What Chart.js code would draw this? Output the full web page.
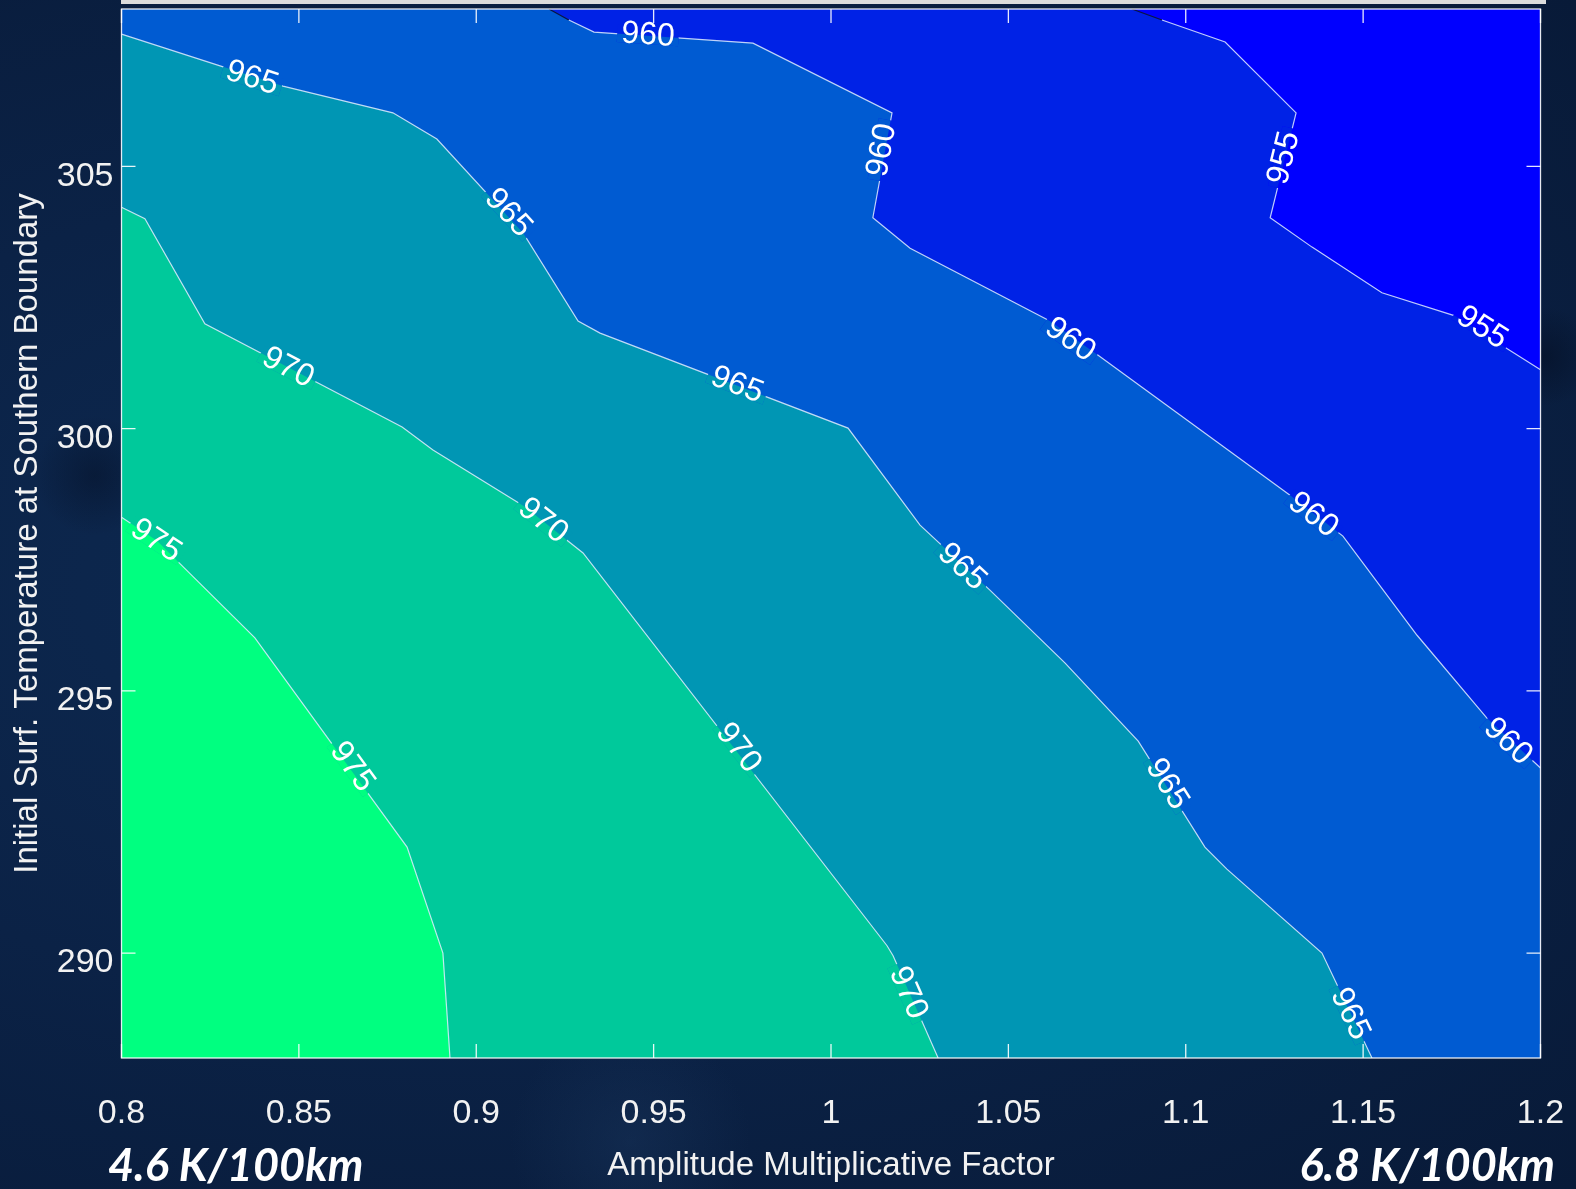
<!DOCTYPE html>
<html>
<head>
<meta charset="utf-8">
<title>Contour - surface temperature vs amplitude factor</title>
<script src="https://cdn.jsdelivr.net/npm/chart.js@4.4.0/dist/chart.umd.min.js"></script>
<style>
  html, body { margin: 0; padding: 0; width: 1576px; height: 1189px; overflow: hidden; }
  body {
    background:
      radial-gradient(circle at 6% 40%, rgba(4, 14, 34, 0.45) 0, rgba(4, 14, 34, 0) 60px),
      radial-gradient(circle at 98% 30%, rgba(4, 14, 34, 0.55) 0, rgba(4, 14, 34, 0) 50px),
      radial-gradient(circle at 40% 96%, rgba(30, 60, 100, 0.35) 0, rgba(30, 60, 100, 0) 120px),
      radial-gradient(ellipse at 30% 50%, #0d2a52 0%, #0b2246 50%, #081a38 100%);
  }
  #wrap { position: relative; width: 1576px; height: 1189px; }
  #topBar { position: absolute; left: 121px; top: 0; width: 1425px; height: 4px; background: #dcdcdc; }
  #contourChart { position: absolute; left: 0; top: 0; }
  .gradient-note {
    position: absolute; top: 1140px; height: 48px; line-height: 48px;
    font-family: Lato, "Open Sans", sans-serif; font-style: italic; font-weight: bold;
    font-size: 45px; color: #ffffff; white-space: nowrap;
  }
  #noteLeft { left: 108px; }
  #noteRight { right: 21px; }
</style>
</head>
<body>
<div id="wrap">
  <div id="topBar"></div>
  <canvas id="contourChart" width="1576" height="1189"></canvas>
  <div class="gradient-note" id="noteLeft">4.6 K/100km</div>
  <div class="gradient-note" id="noteRight">6.8 K/100km</div>
</div>
<script>
// Axis ranges and ticks
const xMin = 0.8, xMax = 1.2, yMin = 288, yMax = 308;
const xTicks = [0.8, 0.85, 0.9, 0.95, 1, 1.05, 1.1, 1.15, 1.2];
const xTickLabels = ['0.8', '0.85', '0.9', '0.95', '1', '1.05', '1.1', '1.15', '1.2'];
const yTicks = [290, 295, 300, 305];

// Contour levels and the colour of the band above each level (first = below 955)
const levels = [955, 960, 965, 970, 975];
const bandColors = ['#0000ff', '#0022e6', '#005bd2', '#0096b4', '#00c99b', '#00ff80'];

// Contour lines: [amplitude factor, temperature]
const line955 = [[1.0848, 308], [1.0933, 307.79], [1.1111, 307.37], [1.1311, 306.02], [1.1238, 304.02],
  [1.1356, 303.46], [1.1553, 302.59], [1.1759, 302.15], [1.2, 301.12]];
const line960 = [[0.9205, 308], [0.9261, 307.79], [0.9332, 307.56], [0.9780, 307.35], [1.0172, 306.02],
  [1.0118, 304.02], [1.0223, 303.44], [1.0617, 302.05], [1.0753, 301.40], [1.1294, 298.73],
  [1.1443, 297.95], [1.1652, 296.06], [1.1849, 294.48], [1.2, 293.53]];
const line965 = [[0.8, 307.52], [0.8455, 306.53], [0.8765, 306.02], [0.8889, 305.52], [0.9132, 303.73],
  [0.9287, 302.05], [0.9349, 301.82], [1.0048, 300.01], [1.0251, 298.16], [1.0448, 296.92],
  [1.0660, 295.53], [1.0866, 294.04], [1.1054, 292.02], [1.1116, 291.60], [1.1384, 290.0], [1.1525, 288]];
const line970 = [[0.8, 304.22], [0.8066, 304.0], [0.8235, 302.0], [0.8791, 300.03], [0.8878, 299.59],
  [0.9137, 298.51], [0.9301, 297.63], [1.0158, 290.14], [1.0175, 289.95], [1.0302, 288]];
const line975 = [[0.8, 298.31], [0.8100, 297.86], [0.8376, 296.01], [0.8805, 292.02], [0.8906, 290.0], [0.8926, 288]];

// Inline contour labels: [level, x, y]
const contourLabels = [
  [955, 1.1277, 305.16], [955, 1.1835, 301.92],
  [960, 0.9484, 307.50], [960, 1.0144, 305.31], [960, 1.0674, 301.69], [960, 1.1359, 298.35], [960, 1.1908, 294.03],
  [965, 0.8368, 306.68], [965, 0.9090, 304.11], [965, 0.9735, 300.83], [965, 1.0369, 297.36], [965, 1.0947, 293.22], [965, 1.1463, 288.84],
  [970, 0.8469, 301.16], [970, 0.9188, 298.24], [970, 0.9739, 293.91], [970, 1.0217, 289.24],
  [975, 0.8097, 297.86], [975, 0.8650, 293.55]
];

const contourLines = [line955, line960, line965, line970, line975];
const textColor = '#f2f2f2';
const lineColor = 'rgba(225, 235, 255, 0.85)';
const fontFamily = '"Liberation Sans", Arial, Helvetica, sans-serif';

function toXY(pts) {
  return pts.map(p => ({ x: p[0], y: p[1] }));
}

// region above a contour level = contour + lower-left corner(s) of the plot
function regionPolygon(pts) {
  const poly = [[xMin, yMin]];
  if (pts[0][1] === yMax) poly.push([xMin, yMax]);
  pts.forEach(p => poly.push(p));
  if (pts[pts.length - 1][0] === xMax) poly.push([xMax, yMin]);
  return toXY(poly);
}

const datasets = [];
datasets.push({
  data: toXY([[xMin, yMin], [xMin, yMax], [xMax, yMax], [xMax, yMin]]),
  showLine: true, fill: 'shape', backgroundColor: bandColors[0],
  borderColor: 'transparent', borderWidth: 0, pointRadius: 0, order: 20
});
contourLines.forEach((c, i) => {
  datasets.push({
    data: regionPolygon(c),
    showLine: true, fill: 'shape', backgroundColor: bandColors[i + 1],
    borderColor: 'transparent', borderWidth: 0, pointRadius: 0, order: 19 - i
  });
});
contourLines.forEach(c => {
  datasets.push({
    data: toXY(c),
    showLine: true, fill: false, borderColor: lineColor,
    borderWidth: 1.2, pointRadius: 0, order: 1,
    // the piece that leaves through the top edge shows up dark in the original
    segment: { borderColor: s => (s.p0.parsed.y === yMax ? '#0a1640' : lineColor) }
  });
});

// Draws the rotated level labels along their contour, breaking the line under them
const labelPlugin = {
  id: 'contourLabels',
  afterDatasetsDraw(chart) {
    const ctx = chart.ctx;
    const xs = chart.scales.x, ys = chart.scales.y;
    ctx.save();
    ctx.font = '32px ' + fontFamily;
    ctx.textAlign = 'center';
    ctx.textBaseline = 'middle';
    contourLabels.forEach(([lvl, lx, ly]) => {
      const idx = levels.indexOf(lvl);
      const pts = contourLines[idx];
      const px = xs.getPixelForValue(lx), py = ys.getPixelForValue(ly);
      let best = Infinity, angle = 0;
      for (let i = 0; i < pts.length - 1; i++) {
        const ax = xs.getPixelForValue(pts[i][0]), ay = ys.getPixelForValue(pts[i][1]);
        const bx = xs.getPixelForValue(pts[i + 1][0]), by = ys.getPixelForValue(pts[i + 1][1]);
        const dx = bx - ax, dy = by - ay;
        const len2 = dx * dx + dy * dy;
        let t = len2 ? ((px - ax) * dx + (py - ay) * dy) / len2 : 0;
        t = Math.max(0, Math.min(1, t));
        const d = Math.hypot(ax + t * dx - px, ay + t * dy - py);
        if (d < best) { best = d; angle = Math.atan2(dy, dx); }
      }
      if (angle > Math.PI / 2) angle -= Math.PI;
      if (angle < -Math.PI / 2) angle += Math.PI;
      const w = ctx.measureText(String(lvl)).width + 8;

      // gap in the contour line: repaint the two bands inside the label box
      ctx.save();
      ctx.translate(px, py);
      ctx.rotate(angle);
      ctx.beginPath();
      ctx.rect(-w / 2, -9, w, 18);
      ctx.setTransform(1, 0, 0, 1, 0, 0);
      ctx.clip();
      ctx.fillStyle = bandColors[idx];
      ctx.fillRect(px - w, py - w, 2 * w, 2 * w);
      ctx.beginPath();
      regionPolygon(pts).forEach((p, i) => {
        const qx = xs.getPixelForValue(p.x), qy = ys.getPixelForValue(p.y);
        if (i === 0) ctx.moveTo(qx, qy); else ctx.lineTo(qx, qy);
      });
      ctx.closePath();
      ctx.fillStyle = bandColors[idx + 1];
      ctx.fill();
      ctx.restore();

      ctx.save();
      ctx.translate(px, py);
      ctx.rotate(angle);
      ctx.fillStyle = '#ffffff';
      ctx.fillText(String(lvl), 0, 0);
      ctx.restore();
    });
    ctx.restore();
  }
};

// MATLAB style box with inward ticks on all four sides
const framePlugin = {
  id: 'boxFrame',
  afterDraw(chart) {
    const ctx = chart.ctx;
    const a = chart.chartArea;
    const xs = chart.scales.x, ys = chart.scales.y;
    const tick = 14;
    ctx.save();
    ctx.strokeStyle = 'rgba(255, 255, 255, 0.9)';
    ctx.lineWidth = 1.3;
    ctx.strokeRect(a.left, a.top, a.right - a.left, a.bottom - a.top);
    ctx.beginPath();
    xTicks.forEach(v => {
      const px = xs.getPixelForValue(v);
      ctx.moveTo(px, a.bottom); ctx.lineTo(px, a.bottom - tick);
      ctx.moveTo(px, a.top); ctx.lineTo(px, a.top + tick);
    });
    yTicks.forEach(v => {
      const py = ys.getPixelForValue(v);
      ctx.moveTo(a.left, py); ctx.lineTo(a.left + tick, py);
      ctx.moveTo(a.right, py); ctx.lineTo(a.right - tick, py);
    });
    ctx.stroke();
    ctx.restore();
  }
};

const chart = new Chart(document.getElementById('contourChart'), {
  type: 'scatter',
  data: { datasets: datasets },
  options: {
    responsive: false,
    devicePixelRatio: 1,
    animation: false,
    layout: { padding: { top: 9, right: 35.5, bottom: 0, left: 0 } },
    plugins: { legend: { display: false }, tooltip: { enabled: false } },
    scales: {
      x: {
        type: 'linear', min: xMin, max: xMax,
        afterBuildTicks: s => { s.ticks = xTicks.map(v => ({ value: v })); },
        afterFit: s => { s.height = 131; s.paddingLeft = 0; s.paddingRight = 0; },
        grid: { display: false, drawTicks: false },
        border: { display: false },
        ticks: {
          autoSkip: false, maxRotation: 0, padding: 35, color: textColor,
          font: { size: 34, family: fontFamily },
          callback: (v, i) => xTickLabels[i]
        },
        title: {
          display: true, text: 'Amplitude Multiplicative Factor', color: textColor,
          font: { size: 33, family: fontFamily }, padding: { top: 0, bottom: 3 }
        }
      },
      y: {
        type: 'linear', min: yMin, max: yMax,
        afterBuildTicks: s => { s.ticks = yTicks.map(v => ({ value: v })); },
        afterFit: s => { s.width = 121.5; s.paddingTop = 0; s.paddingBottom = 0; },
        grid: { display: false, drawTicks: false },
        border: { display: false },
        ticks: {
          autoSkip: false, padding: 8, labelOffset: 10, color: textColor,
          font: { size: 34, family: fontFamily }
        },
        title: {
          display: true, text: 'Initial Surf. Temperature at Southern Boundary', color: textColor,
          font: { size: 33, family: fontFamily }, padding: { top: 8, bottom: 0 }
        }
      }
    }
  },
  plugins: [labelPlugin, framePlugin]
});
</script>
</body>
</html>
